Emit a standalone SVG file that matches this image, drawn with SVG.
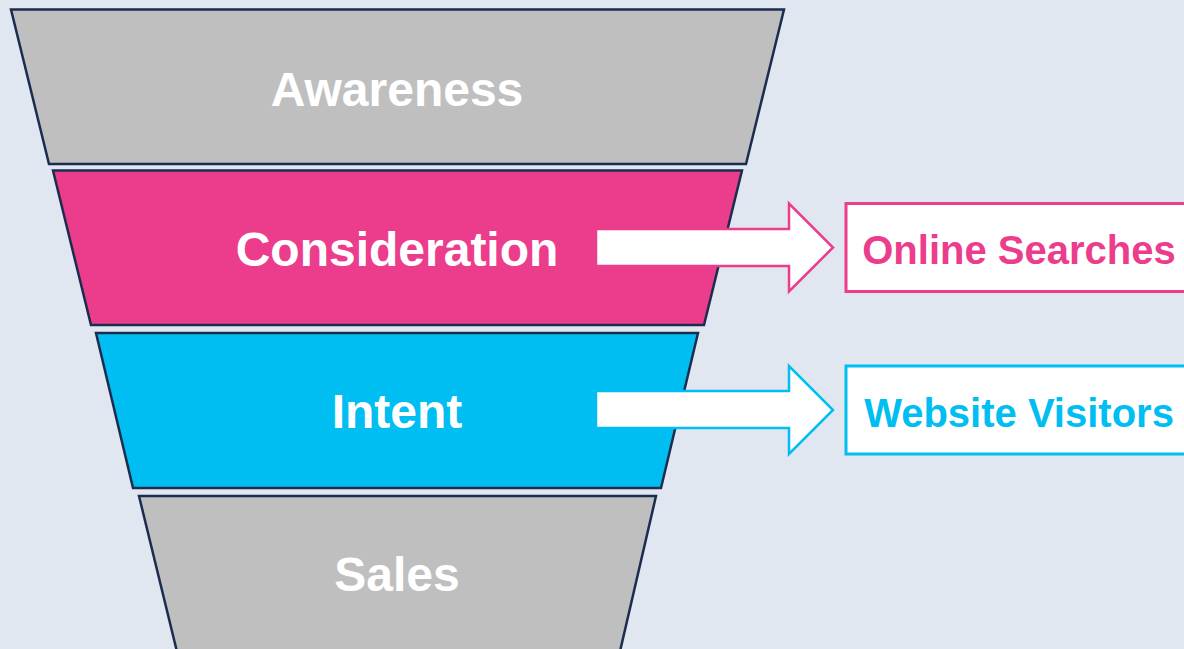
<svg xmlns="http://www.w3.org/2000/svg" width="1184" height="649" viewBox="0 0 1184 649">
<style>
.stage{stroke:#1B2D4F;stroke-width:2.5;stroke-linejoin:miter}
.gray{fill:#BFBFBF}
.pink{fill:#EC3C8C}
.cyan{fill:#00BEF2}
.lbl{font-family:"Liberation Sans",Arial,sans-serif;font-weight:bold;font-size:48px;fill:#FFFFFF;text-anchor:middle}
.out{font-family:"Liberation Sans",Arial,sans-serif;font-weight:bold;font-size:40px;text-anchor:middle}
</style>
<rect x="0" y="0" width="1184" height="649" fill="#E0E7F1"/>
<g id="awareness">
<polygon class="stage gray" points="11,9.5 784,9.5 746,164 49,164"/>
<text class="lbl" x="397" y="106">Awareness</text>
</g>
<g id="consideration">
<polygon class="stage pink" points="53,170.5 742,170.5 704,325 91,325"/>
<text class="lbl" x="397" y="266">Consideration</text>
</g>
<g id="intent">
<polygon class="stage cyan" points="96,333 698,333 661,488 133,488"/>
<text class="lbl" x="397" y="428">Intent</text>
</g>
<g id="sales">
<polygon class="stage gray" points="139,496 656,496 618,660 179,660"/>
<text class="lbl" x="397" y="591">Sales</text>
</g>
<g id="connectors">
<polygon points="596,229 789,229 789,203.5 833,247.5 789,291.5 789,266 596,266" fill="#FFFFFF" stroke="#EC3C8C" stroke-width="2.5"/>
<polygon points="596,391 789,391 789,366 833,410 789,454 789,428 596,428" fill="#FFFFFF" stroke="#00BEF2" stroke-width="2.5"/>
</g>
<g id="online-searches">
<rect x="846" y="203.5" width="350" height="88" fill="#FFFFFF" stroke="#EC3C8C" stroke-width="3"/>
<text class="out" x="1019" y="264" fill="#EC3C8C">Online Searches</text>
</g>
<g id="website-visitors">
<rect x="846" y="366" width="350" height="88" fill="#FFFFFF" stroke="#00BEF2" stroke-width="3"/>
<text class="out" x="1019" y="427" fill="#00BEF2">Website Visitors</text>
</g>
</svg>
